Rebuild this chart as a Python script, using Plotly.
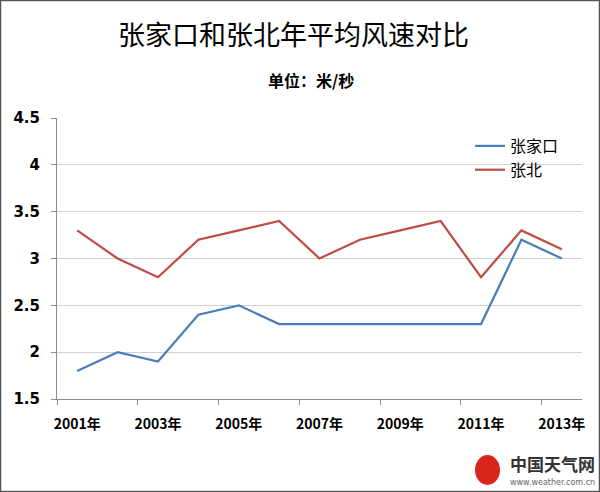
import plotly.graph_objects as go

years = list(range(2001, 2014))
zhangjiakou = [1.8, 2.0, 1.9, 2.4, 2.5, 2.3, 2.3, 2.3, 2.3, 2.3, 2.3, 3.2, 3.0]
zhangbei = [3.3, 3.0, 2.8, 3.2, 3.3, 3.4, 3.0, 3.2, 3.3, 3.4, 2.8, 3.3, 3.1]
tick_years = [2001, 2003, 2005, 2007, 2009, 2011, 2013]
tick_labels = [f"<b>{y}年</b>" for y in tick_years]
y_ticks = [1.5, 2, 2.5, 3, 3.5, 4, 4.5]
y_labels = ["<b>1.5</b>", "<b>2</b>", "<b>2.5</b>", "<b>3</b>", "<b>3.5</b>", "<b>4</b>", "<b>4.5</b>"]

FONT = "Noto Sans CJK SC, DejaVu Sans, sans-serif"

fig = go.Figure()
fig.add_trace(go.Scatter(x=years, y=zhangjiakou, mode="lines", name="张家口",
                         line=dict(color="#4a7ebb", width=2.2)))
fig.add_trace(go.Scatter(x=years, y=zhangbei, mode="lines", name="张北",
                         line=dict(color="#be4b48", width=2.2)))

L, R, T, B = 57, 18, 118, 93
W, H = 600, 492
pw, ph = W - L - R, H - T - B

fig.update_layout(
    width=W, height=H,
    margin=dict(l=L, r=R, t=T, b=B),
    paper_bgcolor="white", plot_bgcolor="white",
    font=dict(family=FONT, color="black"),
    showlegend=True,
    legend=dict(x=(470 - L) / pw, y=(399 - 129) / ph, xanchor="left", yanchor="top",
                bgcolor="rgba(0,0,0,0)", font=dict(size=16, family=FONT),
                tracegroupgap=2, itemwidth=30),
    xaxis=dict(range=[2000.5, 2013.5], tickvals=tick_years, ticktext=tick_labels,
               ticks="", showgrid=False, showline=True, linecolor="#8c8c8c", linewidth=1,
               tickfont=dict(size=14, family=FONT), zeroline=False, ticklabelstandoff=12,
               minor=dict(tickvals=[2000.5 + 2 * i for i in range(7)], ticks="outside",
                          ticklen=5, tickcolor="#8c8c8c", showgrid=False)),
    yaxis=dict(range=[1.5, 4.5], tickvals=y_ticks, ticktext=y_labels,
               ticks="outside", ticklen=5, tickcolor="#8c8c8c",
               showgrid=True, gridcolor="#d0d0d0", gridwidth=1,
               showline=True, linecolor="#8c8c8c", linewidth=1, zeroline=False,
               tickfont=dict(size=15, family="DejaVu Sans", color="black"),
               ticklabelstandoff=8),
    annotations=[
        dict(text="张家口和张北年平均风速对比", xref="paper", yref="paper",
             x=(293 - L) / pw, y=1 + (118 - 33) / ph, xanchor="center", yanchor="middle",
             showarrow=False, font=dict(size=27, family=FONT, color="black")),
        dict(text="<b>单位：米/秒</b>", xref="paper", yref="paper",
             x=(311 - L) / pw, y=1 + (118 - 80) / ph, xanchor="center", yanchor="middle",
             showarrow=False, font=dict(size=16, family=FONT, color="black")),
        dict(text="<b>中国天气网</b>", xref="paper", yref="paper",
             x=(508 - L) / pw, y=-(463 - 399) / ph, xanchor="left", yanchor="middle",
             showarrow=False, font=dict(size=17, family=FONT, color="#333333")),
        dict(text="www.weather.com.cn", xref="paper", yref="paper",
             x=(508 - L) / pw, y=-(482 - 399) / ph, xanchor="left", yanchor="middle",
             showarrow=False, font=dict(size=8, family="DejaVu Sans", color="#666666")),
    ],
    shapes=[
        dict(type="rect", xref="paper", yref="paper",
             x0=-(L - 0.5) / pw, x1=1 + (R - 0.5) / pw,
             y0=-(B - 0.5) / ph, y1=1 + (T - 0.5) / ph,
             line=dict(color="#555555", width=1.5), fillcolor="rgba(0,0,0,0)", layer="above"),
        dict(type="circle", xref="paper", yref="paper",
             x0=(475 - L) / pw, x1=(500 - L) / pw,
             y0=-(485 - 399) / ph, y1=-(455 - 399) / ph,
             line=dict(width=0), fillcolor="#d9261c"),
    ],
)
fig.write_html("out.html")
